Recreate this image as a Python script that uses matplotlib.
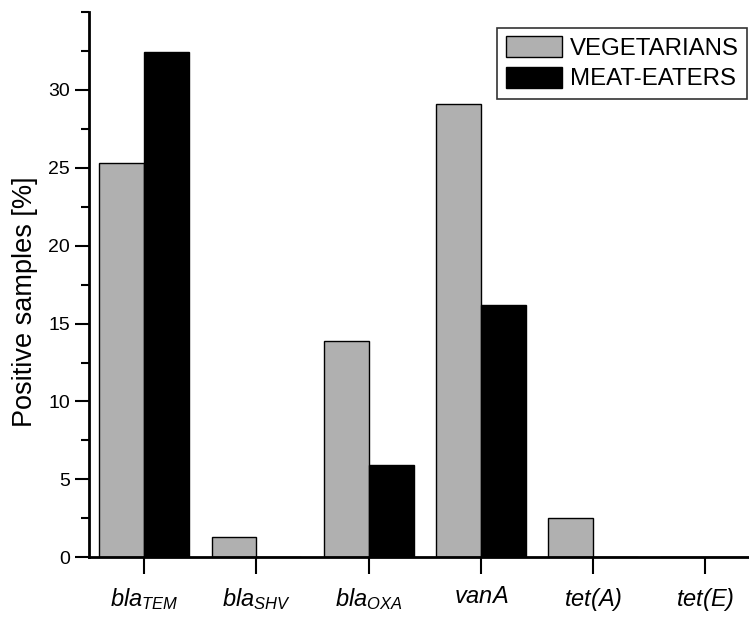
import matplotlib
matplotlib.use("Agg")
import matplotlib.pyplot as plt
import numpy as np
from matplotlib.ticker import MultipleLocator

plt.rcParams['font.family'] = ['Liberation Sans', 'DejaVu Sans']
plt.rcParams['mathtext.fontset'] = 'custom'
plt.rcParams['mathtext.it'] = 'Liberation Sans:italic'
plt.rcParams['mathtext.rm'] = 'Liberation Sans:italic'

# Resistance genes detected in stool samples
genes = [r'$bla_{TEM}$', r'$bla_{SHV}$', r'$bla_{OXA}$', r'$vanA$', r'$tet(A)$', r'$tet(E)$']
vegetarians = [25.3, 1.3, 13.9, 29.1, 2.5, 0.0]
meat_eaters = [32.4, 0.0, 5.9, 16.2, 0.0, 0.0]
series_labels = ['VEGETARIANS', 'MEAT-EATERS']

fig = plt.figure(figsize=(7.49, 6.17), dpi=100)
ax = fig.add_axes([0.1192, 0.0968, 0.8808, 0.8838])

x = np.arange(len(genes))
w = 0.4
ax.bar(x - w / 2, vegetarians, width=w, color='#b0b0b0', edgecolor='black',
       linewidth=1.0, label=series_labels[0])
ax.bar(x + w / 2, meat_eaters, width=w, color='black', edgecolor='black',
       linewidth=1.0, label=series_labels[1])

ax.set_xlim(-0.49, 5.39)
ax.set_ylim(0, 35)
ax.set_xticks(x)
ax.set_xticklabels(genes, fontsize=17)
ax.set_yticks([0, 5, 10, 15, 20, 25, 30])
ax.yaxis.set_minor_locator(MultipleLocator(2.5))
ax.tick_params(axis='y', which='major', labelsize=14, length=10, width=1.5, pad=4)
ax.tick_params(axis='y', which='minor', length=6, width=1.5)
ax.tick_params(axis='x', which='major', length=12, width=1.5, pad=9)

for side in ('top', 'right'):
    ax.spines[side].set_visible(False)
for side in ('left', 'bottom'):
    ax.spines[side].set_linewidth(2)

ax.set_ylabel('Positive samples [%]', fontsize=19.5)
ax.yaxis.set_label_coords(-0.0777, 0.468)

leg = ax.legend(loc='upper right', bbox_to_anchor=(747 / 749, 1 - 28 / 617),
                bbox_transform=fig.transFigure, fontsize=17.3, frameon=True,
                fancybox=False, edgecolor='black', handlelength=2.33,
                handleheight=0.97, handletextpad=0.33, labelspacing=0.27,
                borderpad=0.35, borderaxespad=0)
leg.get_frame().set_linewidth(1.2)

fig.savefig('out.png', dpi=100)
